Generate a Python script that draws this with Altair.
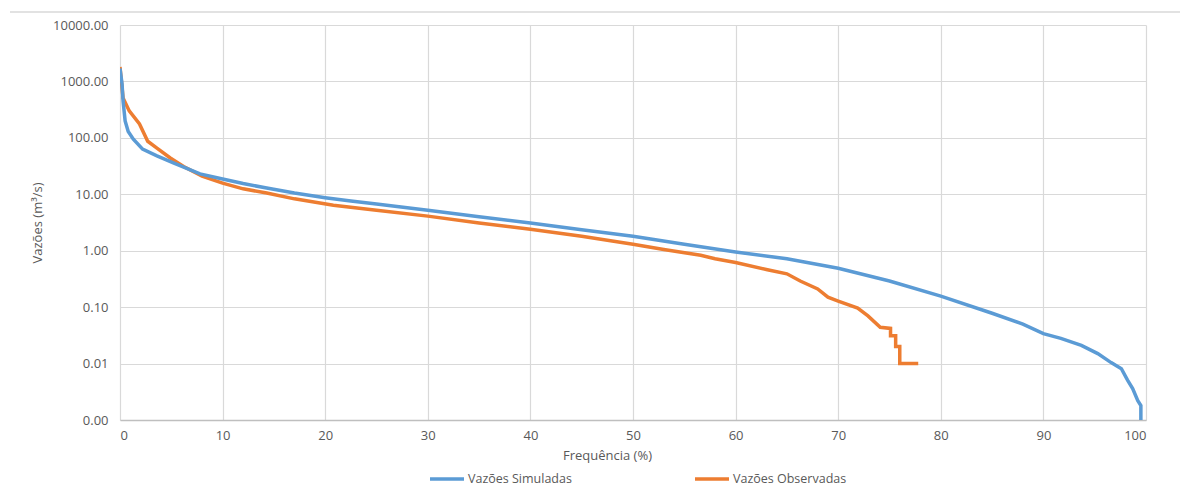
import altair as alt
import pandas as pd

# --- data ---
sim_freq = [0, 0.2, 0.3, 0.5, 0.8, 1.3, 2.2, 3.6, 5.2, 7.8, 10, 12, 14.3, 17, 20, 22.5,
            25, 30, 35, 40, 45, 50, 55, 60, 65, 70, 75, 80, 85, 88, 90, 91.7, 93.7, 95.3,
            96.6, 97.6, 98.2, 98.7, 99.2, 99.5, 99.5]
sim_flow = [1700, 900, 450, 200, 130, 95, 63, 48, 36, 23, 18.6, 15.5, 12.9, 10.5, 8.7, 7.6,
            6.7, 5.2, 4.0, 3.1, 2.35, 1.8, 1.3, 0.95, 0.72, 0.49, 0.29, 0.157, 0.078, 0.05, 0.034,
            0.028, 0.021, 0.015, 0.0104, 0.0081, 0.0051, 0.0036, 0.0022, 0.0018, 0.001]

obs_freq = [0, 0.3, 0.9, 1.9, 2.7, 3.6, 4.9, 6.2, 8, 10, 12, 14.3, 17, 20.8, 25, 30, 35,
            40, 45, 50, 53, 56.6, 58, 60, 63.1, 65, 66.3, 68, 69, 70, 71.9, 72.9, 74.1, 75.1, 75.1,
            75.6, 75.6, 76.0, 76.0, 77.8]
obs_flow = [1800, 510, 300, 176, 87, 66, 44, 31, 21, 15.8, 12.5, 10.5, 8.3, 6.4, 5.2,
            4.1, 3.1, 2.4, 1.8, 1.3, 1.05, 0.83, 0.72, 0.62, 0.46, 0.39, 0.29, 0.21, 0.15, 0.128,
            0.096, 0.07, 0.044, 0.042, 0.031, 0.031, 0.02, 0.02, 0.01, 0.01]

series = ["Vazões Simuladas", "Vazões Observadas"]
colors = ["#5B9BD5", "#ED7D31"]
x_ticks = [0, 10, 20, 30, 40, 50, 60, 70, 80, 90, 100]
y_ticks = [0.001, 0.01, 0.1, 1, 10, 100, 1000, 10000]

sim = pd.DataFrame({"freq": sim_freq, "flow": sim_flow, "serie": series[0], "order": range(len(sim_freq))})
obs = pd.DataFrame({"freq": obs_freq, "flow": obs_flow, "serie": series[1], "order": range(len(obs_freq))})

FONT = "Open Sans"
GRAY = "#595959"

color = alt.Color(
    "serie:N",
    scale=alt.Scale(domain=series, range=colors),
    legend=alt.Legend(
        title=None, orient="none", legendX=308, legendY=435, direction="horizontal",
        columns=2, symbolType="stroke", symbolSize=1156, symbolStrokeWidth=3.5,
        labelFont=FONT, labelFontSize=12.5, labelColor=GRAY, columnPadding=116,
        labelOffset=2, labelLimit=300,
    ),
)

x = alt.X(
    "freq:Q",
    scale=alt.Scale(domain=[0, 100], nice=False),
    axis=alt.Axis(values=x_ticks, title="Frequência (%)", titleX=487, titleY=35,
                  titleBaseline="middle", labelPadding=9),
)
y = alt.Y(
    "flow:Q",
    scale=alt.Scale(type="log", domain=[0.001, 10000], nice=False),
    axis=alt.Axis(values=y_ticks, format=".2f", title="Vazões (m³/s)", labelPadding=12,
                  titlePadding=8, domain=False),
)

obs_line = alt.Chart(obs).mark_line(strokeWidth=3.5, clip=True).encode(
    x=x, y=y, color=color, order="order:Q")
sim_line = alt.Chart(sim).mark_line(strokeWidth=3.5, clip=True).encode(
    x=x, y=y, color=color, order="order:Q")

frame = alt.Chart(pd.DataFrame({"a": [0]})).mark_rule(color="#d9d9d9", strokeWidth=1.5).encode(
    x=alt.value(-110), x2=alt.value(1060), y=alt.value(-13))

chart = alt.layer(frame, obs_line, sim_line).properties(
    width=1026, height=395,
    padding={"left": 1, "top": 3, "right": 5, "bottom": 5},
).configure_view(strokeWidth=0).configure_axis(
    labelFont=FONT, titleFont=FONT, labelFontSize=13, titleFontSize=13,
    labelColor=GRAY, titleColor=GRAY, titleFontWeight="normal",
    gridColor="#d9d9d9", gridWidth=1.2, tickSize=0,
    domainColor="#bfbfbf", domainWidth=1.5,
)

chart.save("out.html", embed_options={"renderer": "svg", "actions": False})
